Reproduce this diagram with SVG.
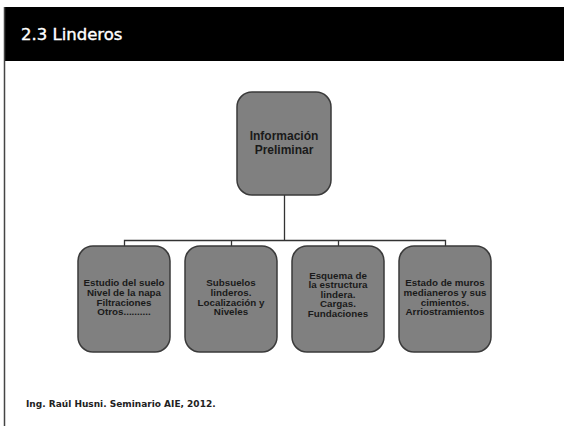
<svg xmlns="http://www.w3.org/2000/svg" width="564" height="426" viewBox="0 0 564 426">
<style>
.box{fill:#808080;stroke:#3a3a3a;stroke-width:1.5}
.conn{fill:none;stroke:#333;stroke-width:1.3}
.t{font-family:"Liberation Sans",Arial,sans-serif;font-weight:bold;fill:#1a1a1a;text-anchor:middle}
.top{font-size:12px}
.sm{font-size:9.8px}
</style>
<rect x="0" y="0" width="564" height="426" fill="#fff"/>
<rect x="4" y="7" width="560" height="54" fill="#000"/>
<line x1="4.5" y1="7" x2="4.5" y2="426" stroke="#444" stroke-width="1.5"/>
<text x="21" y="40" font-family="DejaVu Sans,sans-serif" font-size="16.5" fill="#fff" stroke="#fff" stroke-width="0.4">2.3 Linderos</text>
<g id="connectors">
<path class="conn" d="M284.5 195V240.5M124.5 246V240.5H445.5V246M231.5 240.5V246M338.5 240.5V246"/>
</g>
<g id="n0">
<rect class="box" x="237" y="92" width="94" height="103" rx="15"/>
<text class="t top" x="284" y="140">Información</text>
<text class="t top" x="284" y="154">Preliminar</text>
</g>
<g id="n1">
<rect class="box" x="78" y="246" width="92" height="106" rx="15"/>
<text class="t sm" x="124" y="286">Estudio del suelo</text>
<text class="t sm" x="124" y="295.8">Nivel de la napa</text>
<text class="t sm" x="124" y="305.6">Filtraciones</text>
<text class="t sm" x="124" y="315.4">Otros..........</text>
</g>
<g id="n2">
<rect class="box" x="185" y="246" width="92" height="106" rx="15"/>
<text class="t sm" x="231" y="286">Subsuelos</text>
<text class="t sm" x="231" y="295.8">linderos.</text>
<text class="t sm" x="231" y="305.6">Localización y</text>
<text class="t sm" x="231" y="315.4">Niveles</text>
</g>
<g id="n3">
<rect class="box" x="292" y="246" width="92" height="106" rx="15"/>
<text class="t sm" x="338" y="278.5">Esquema de</text>
<text class="t sm" x="338" y="288">la estructura</text>
<text class="t sm" x="338" y="297.5">lindera.</text>
<text class="t sm" x="338" y="307">Cargas.</text>
<text class="t sm" x="338" y="316.5">Fundaciones</text>
</g>
<g id="n4">
<rect class="box" x="399" y="246" width="92" height="106" rx="15"/>
<text class="t sm" x="445" y="286">Estado de muros</text>
<text class="t sm" x="445" y="295.8">medianeros y sus</text>
<text class="t sm" x="445" y="305.6">cimientos.</text>
<text class="t sm" x="445" y="315.4">Arriostramientos</text>
</g>
<text x="26" y="407" font-family="DejaVu Sans,sans-serif" font-weight="bold" font-size="9" fill="#222">Ing. Raúl Husni. Seminario AIE, 2012.</text>
</svg>
